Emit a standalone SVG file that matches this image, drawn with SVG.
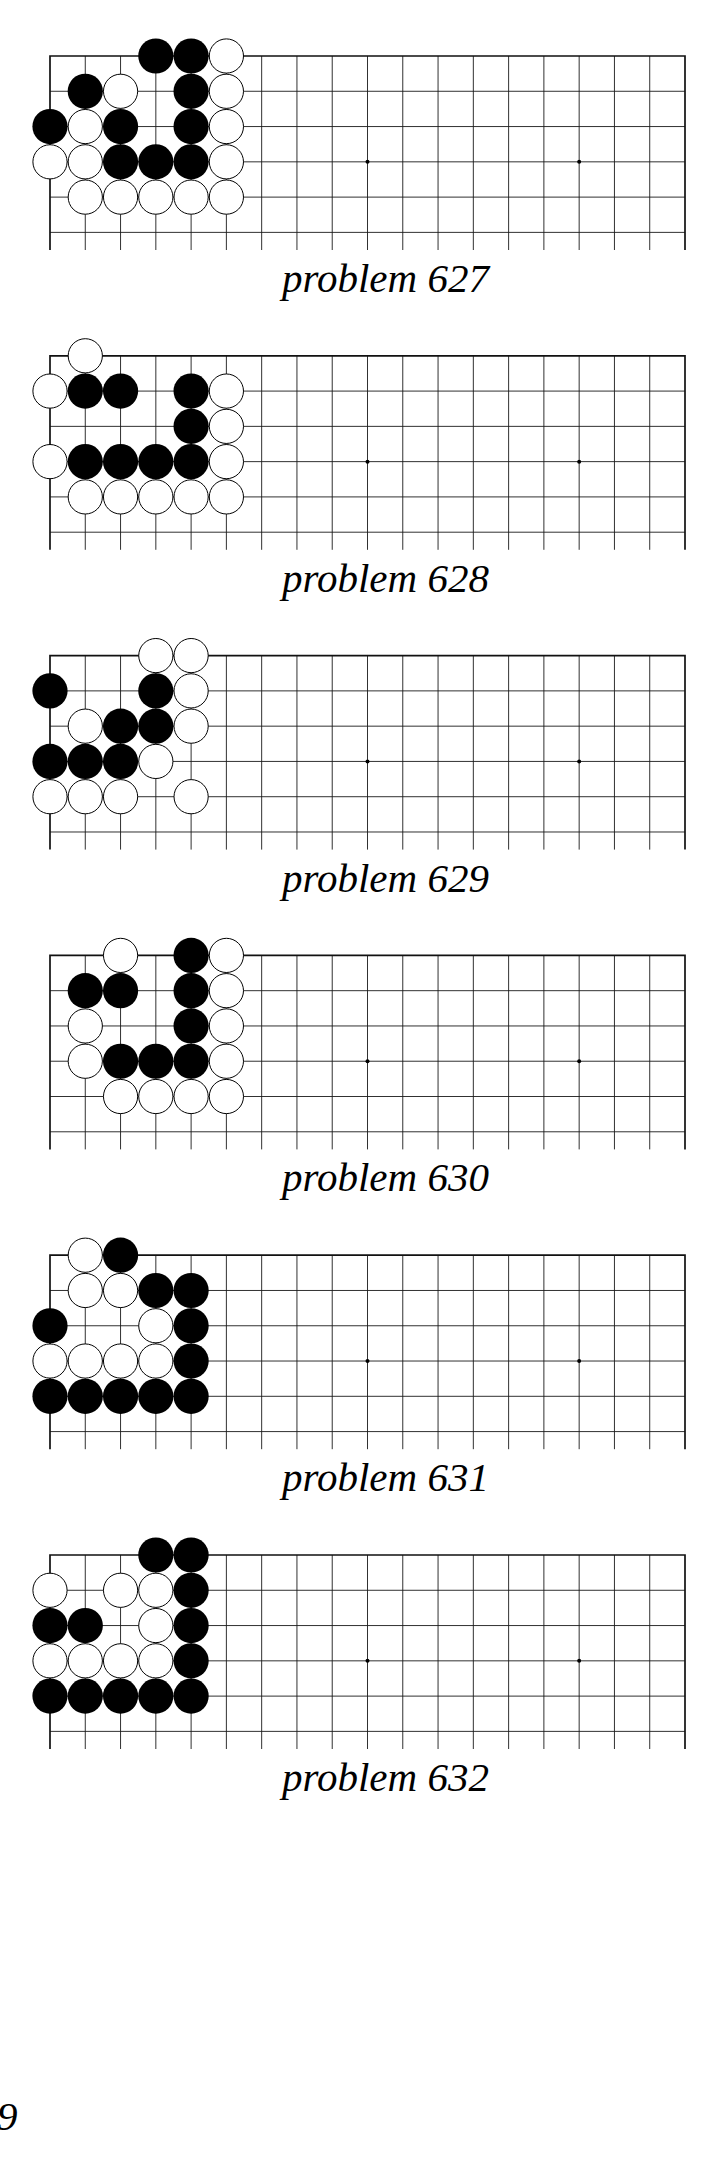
<svg xmlns="http://www.w3.org/2000/svg" xmlns:xlink="http://www.w3.org/1999/xlink" width="725" height="2181" viewBox="0 0 725 2181">
<style>
.g{stroke:#1a1a1a;stroke-width:0.9;fill:none}
.e{stroke:#111;stroke-width:1.7;fill:none}
.b{fill:#000}
.w{fill:#fff;stroke:#000;stroke-width:1}
.s{fill:#000}
.lbl{font-family:"Liberation Serif",serif;font-style:italic;font-size:41px;fill:#000}
</style>
<defs>
<g id="grid">
<path class="g" d="M0 35.28H635M0 70.56H635M0 105.83H635M0 141.11H635M0 176.39H635M35.28 0V194M70.56 0V194M105.83 0V194M141.11 0V194M176.39 0V194M211.67 0V194M246.94 0V194M282.22 0V194M317.5 0V194M352.78 0V194M388.06 0V194M423.33 0V194M458.61 0V194M493.89 0V194M529.17 0V194M564.44 0V194M599.72 0V194"/>
<path class="e" d="M0 194V0H635V194"/>
<circle class="s" cx="317.5" cy="105.83" r="2"/>
<circle class="s" cx="529.17" cy="105.83" r="2"/>
</g>
<circle id="B" class="b" r="17.6"/>
<circle id="W" class="w" r="17.1"/>
</defs>

<g id="board627" transform="translate(50,56)">
<use href="#grid"/>
<use href="#B" x="105.83" y="0"/><use href="#B" x="141.11" y="0"/><use href="#W" x="176.39" y="0"/>
<use href="#B" x="35.28" y="35.28"/><use href="#W" x="70.56" y="35.28"/><use href="#B" x="141.11" y="35.28"/><use href="#W" x="176.39" y="35.28"/>
<use href="#B" x="0" y="70.56"/><use href="#W" x="35.28" y="70.56"/><use href="#B" x="70.56" y="70.56"/><use href="#B" x="141.11" y="70.56"/><use href="#W" x="176.39" y="70.56"/>
<use href="#W" x="0" y="105.83"/><use href="#W" x="35.28" y="105.83"/><use href="#B" x="70.56" y="105.83"/><use href="#B" x="105.83" y="105.83"/><use href="#B" x="141.11" y="105.83"/><use href="#W" x="176.39" y="105.83"/>
<use href="#W" x="35.28" y="141.11"/><use href="#W" x="70.56" y="141.11"/><use href="#W" x="105.83" y="141.11"/><use href="#W" x="141.11" y="141.11"/><use href="#W" x="176.39" y="141.11"/>
<text class="lbl" x="232" y="236">problem 627</text>
</g>

<g id="board628" transform="translate(50,355.8)">
<use href="#grid"/>
<use href="#W" x="35.28" y="0"/>
<use href="#W" x="0" y="35.28"/><use href="#B" x="35.28" y="35.28"/><use href="#B" x="70.56" y="35.28"/><use href="#B" x="141.11" y="35.28"/><use href="#W" x="176.39" y="35.28"/>
<use href="#B" x="141.11" y="70.56"/><use href="#W" x="176.39" y="70.56"/>
<use href="#W" x="0" y="105.83"/><use href="#B" x="35.28" y="105.83"/><use href="#B" x="70.56" y="105.83"/><use href="#B" x="105.83" y="105.83"/><use href="#B" x="141.11" y="105.83"/><use href="#W" x="176.39" y="105.83"/>
<use href="#W" x="35.28" y="141.11"/><use href="#W" x="70.56" y="141.11"/><use href="#W" x="105.83" y="141.11"/><use href="#W" x="141.11" y="141.11"/><use href="#W" x="176.39" y="141.11"/>
<text class="lbl" x="232" y="236">problem 628</text>
</g>

<g id="board629" transform="translate(50,655.6)">
<use href="#grid"/>
<use href="#W" x="105.83" y="0"/><use href="#W" x="141.11" y="0"/>
<use href="#B" x="0" y="35.28"/><use href="#B" x="105.83" y="35.28"/><use href="#W" x="141.11" y="35.28"/>
<use href="#W" x="35.28" y="70.56"/><use href="#B" x="70.56" y="70.56"/><use href="#B" x="105.83" y="70.56"/><use href="#W" x="141.11" y="70.56"/>
<use href="#B" x="0" y="105.83"/><use href="#B" x="35.28" y="105.83"/><use href="#B" x="70.56" y="105.83"/><use href="#W" x="105.83" y="105.83"/>
<use href="#W" x="0" y="141.11"/><use href="#W" x="35.28" y="141.11"/><use href="#W" x="70.56" y="141.11"/><use href="#W" x="141.11" y="141.11"/>
<text class="lbl" x="232" y="236">problem 629</text>
</g>

<g id="board630" transform="translate(50,955.4)">
<use href="#grid"/>
<use href="#W" x="70.56" y="0"/><use href="#B" x="141.11" y="0"/><use href="#W" x="176.39" y="0"/>
<use href="#B" x="35.28" y="35.28"/><use href="#B" x="70.56" y="35.28"/><use href="#B" x="141.11" y="35.28"/><use href="#W" x="176.39" y="35.28"/>
<use href="#W" x="35.28" y="70.56"/><use href="#B" x="141.11" y="70.56"/><use href="#W" x="176.39" y="70.56"/>
<use href="#W" x="35.28" y="105.83"/><use href="#B" x="70.56" y="105.83"/><use href="#B" x="105.83" y="105.83"/><use href="#B" x="141.11" y="105.83"/><use href="#W" x="176.39" y="105.83"/>
<use href="#W" x="70.56" y="141.11"/><use href="#W" x="105.83" y="141.11"/><use href="#W" x="141.11" y="141.11"/><use href="#W" x="176.39" y="141.11"/>
<text class="lbl" x="232" y="236">problem 630</text>
</g>

<g id="board631" transform="translate(50,1255.2)">
<use href="#grid"/>
<use href="#W" x="35.28" y="0"/><use href="#B" x="70.56" y="0"/>
<use href="#W" x="35.28" y="35.28"/><use href="#W" x="70.56" y="35.28"/><use href="#B" x="105.83" y="35.28"/><use href="#B" x="141.11" y="35.28"/>
<use href="#B" x="0" y="70.56"/><use href="#W" x="105.83" y="70.56"/><use href="#B" x="141.11" y="70.56"/>
<use href="#W" x="0" y="105.83"/><use href="#W" x="35.28" y="105.83"/><use href="#W" x="70.56" y="105.83"/><use href="#W" x="105.83" y="105.83"/><use href="#B" x="141.11" y="105.83"/>
<use href="#B" x="0" y="141.11"/><use href="#B" x="35.28" y="141.11"/><use href="#B" x="70.56" y="141.11"/><use href="#B" x="105.83" y="141.11"/><use href="#B" x="141.11" y="141.11"/>
<text class="lbl" x="232" y="236">problem 631</text>
</g>

<g id="board632" transform="translate(50,1555)">
<use href="#grid"/>
<use href="#B" x="105.83" y="0"/><use href="#B" x="141.11" y="0"/>
<use href="#W" x="0" y="35.28"/><use href="#W" x="70.56" y="35.28"/><use href="#W" x="105.83" y="35.28"/><use href="#B" x="141.11" y="35.28"/>
<use href="#B" x="0" y="70.56"/><use href="#B" x="35.28" y="70.56"/><use href="#W" x="105.83" y="70.56"/><use href="#B" x="141.11" y="70.56"/>
<use href="#W" x="0" y="105.83"/><use href="#W" x="35.28" y="105.83"/><use href="#W" x="70.56" y="105.83"/><use href="#W" x="105.83" y="105.83"/><use href="#B" x="141.11" y="105.83"/>
<use href="#B" x="0" y="141.11"/><use href="#B" x="35.28" y="141.11"/><use href="#B" x="70.56" y="141.11"/><use href="#B" x="105.83" y="141.11"/><use href="#B" x="141.11" y="141.11"/>
<text class="lbl" x="232" y="236">problem 632</text>
</g>

<g id="connectors"/>

<text class="lbl" x="-3" y="2130">9</text>
</svg>
